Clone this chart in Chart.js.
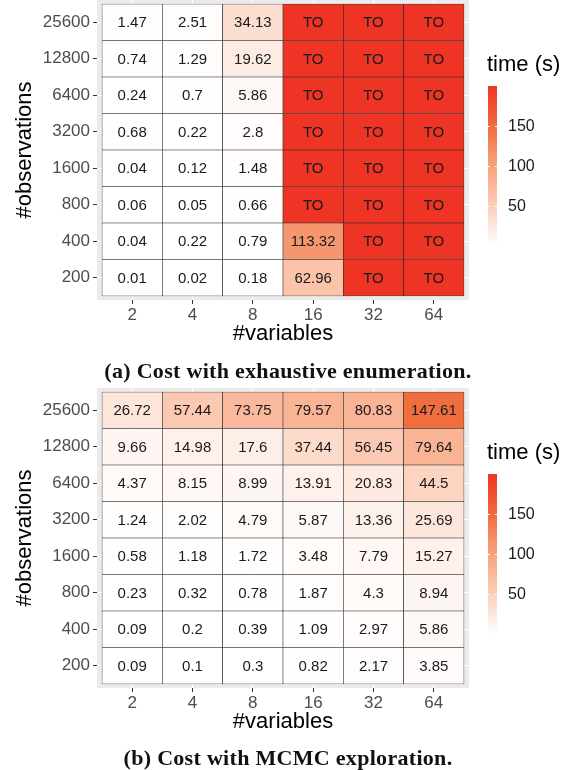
<!DOCTYPE html>
<html>
<head>
<meta charset="utf-8">
<script src="https://cdn.jsdelivr.net/npm/chart.js@4/dist/chart.umd.min.js"></script>
<style>
  html, body { margin: 0; padding: 0; background: #fff; }
  #wrap { position: relative; width: 572px; height: 770px; overflow: hidden; }
  canvas { position: absolute; left: 0; }
  .cap { position: absolute; left: 0; width: 576px; text-align: center; line-height: 24px;
         font: bold 22px "Liberation Serif", "Times New Roman", serif; letter-spacing: 0.3px; color: #111; }
</style>
</head>
<body>
<div id="wrap">
  <canvas id="chartA" width="572" height="388" style="top:0"></canvas>
  <canvas id="chartB" width="572" height="382" style="top:388px"></canvas>
  <div class="cap" style="top:358px">(a) Cost with exhaustive enumeration.</div>
  <div class="cap" style="top:745px">(b) Cost with MCMC exploration.</div>
</div>
<script>
// categories
const variables = [2, 4, 8, 16, 32, 64];
const observations = [200, 400, 800, 1600, 3200, 6400, 12800, 25600]; // bottom -> top

// time in seconds, rows follow observations (bottom -> top), null = timeout (TO)
const exhaustive = [
  [0.01, 0.02, 0.18, 62.96, null, null],
  [0.04, 0.22, 0.79, 113.32, null, null],
  [0.06, 0.05, 0.66, null, null, null],
  [0.04, 0.12, 1.48, null, null, null],
  [0.68, 0.22, 2.8, null, null, null],
  [0.24, 0.7, 5.86, null, null, null],
  [0.74, 1.29, 19.62, null, null, null],
  [1.47, 2.51, 34.13, null, null, null]
];
const mcmc = [
  [0.09, 0.1, 0.3, 0.82, 2.17, 3.85],
  [0.09, 0.2, 0.39, 1.09, 2.97, 5.86],
  [0.23, 0.32, 0.78, 1.87, 4.3, 8.94],
  [0.58, 1.18, 1.72, 3.48, 7.79, 15.27],
  [1.24, 2.02, 4.79, 5.87, 13.36, 25.69],
  [4.37, 8.15, 8.99, 13.91, 20.83, 44.5],
  [9.66, 14.98, 17.6, 37.44, 56.45, 79.64],
  [26.72, 57.44, 73.75, 79.57, 80.83, 147.61]
];
const legendTicks = [50, 100, 150];
const timeoutValue = 200;
const fillMax = 200;

// white -> red gradient
const colorStops = [
  [0, [255, 255, 255]],
  [0.17, [252, 222, 208]],
  [0.315, [251, 195, 170]],
  [0.567, [245, 150, 110]],
  [0.738, [240, 110, 62]],
  [1, [238, 52, 36]]
];
function fillColor(v) {
  const t = Math.min(Math.max(v / fillMax, 0), 1);
  for (let k = 1; k < colorStops.length; k++) {
    const [t0, c0] = colorStops[k - 1];
    const [t1, c1] = colorStops[k];
    if (t <= t1) {
      const f = (t - t0) / (t1 - t0);
      return 'rgb(' + c0.map((c, i) => Math.round(c + (c1[i] - c) * f)).join(',') + ')';
    }
  }
  return 'rgb(238,52,36)';
}

const FONT = '"Liberation Sans", Arial, sans-serif';
Chart.defaults.font.family = FONT;

function makeChart(id, rows, padBottom) {
  const cellText = {
    id: 'cellText',
    afterDatasetsDraw(chart) {
      const ctx = chart.ctx;
      ctx.save();
      ctx.font = '15px ' + FONT;
      ctx.fillStyle = '#1a1a1a';
      ctx.textAlign = 'center';
      ctx.textBaseline = 'middle';
      chart.data.datasets.forEach((ds, i) => {
        chart.getDatasetMeta(i).data.forEach((bar, j) => {
          const v = rows[i][j];
          ctx.fillText(v === null ? 'TO' : String(v), bar.x, (bar.y + bar.base) / 2 + 1);
        });
      });
      ctx.restore();
    }
  };

  const panel = {
    id: 'panel',
    beforeDraw(chart) {
      const a = chart.chartArea;
      chart.ctx.save();
      chart.ctx.fillStyle = '#EBEBEB';
      chart.ctx.fillRect(a.left, a.top, a.right - a.left, a.bottom - a.top);
      chart.ctx.restore();
    }
  };

  const colorbar = {
    id: 'colorbar',
    afterDraw(chart) {
      const ctx = chart.ctx;
      const x = 488, w = 9, top = 86, bottom = 246;
      const yOf = v => bottom - (v / fillMax) * (bottom - top);
      ctx.save();
      ctx.font = '22px ' + FONT;
      ctx.fillStyle = '#000';
      ctx.textAlign = 'left';
      ctx.textBaseline = 'middle';
      ctx.fillText('time (s)', 487, 65);
      const g = ctx.createLinearGradient(0, bottom, 0, top);
      for (let k = 0; k <= 40; k++) g.addColorStop(k / 40, fillColor(k / 40 * fillMax));
      ctx.fillStyle = g;
      ctx.fillRect(x, top, w, bottom - top);
      ctx.strokeStyle = '#fff';
      ctx.lineWidth = 1;
      ctx.font = '16px ' + FONT;
      ctx.fillStyle = '#1a1a1a';
      legendTicks.forEach(v => {
        const y = Math.round(yOf(v)) + 0.5;
        ctx.beginPath();
        ctx.moveTo(x, y); ctx.lineTo(x + 2, y);
        ctx.moveTo(x + w - 2, y); ctx.lineTo(x + w, y);
        ctx.stroke();
        ctx.fillText(String(v), 508, y);
      });
      ctx.restore();
    }
  };

  const datasets = rows.map((row, i) => ({
    label: String(observations[i]),
    data: row.map((v, j) => ({ x: j, y: 1 })),
    backgroundColor: row.map(v => fillColor(v === null ? timeoutValue : v)),
    borderColor: '#262626',
    borderWidth: 0.6,
    borderSkipped: false,
    grouped: false,
    barPercentage: 1,
    categoryPercentage: 1
  }));

  const gridOpts = { color: '#ffffff', lineWidth: 1, offset: false, tickColor: '#333333', tickLength: 4, tickWidth: 1 };

  new Chart(document.getElementById(id), {
    type: 'bar',
    data: { datasets },
    plugins: [panel, cellText, colorbar],
    options: {
      responsive: false,
      animation: false,
      events: [],
      layout: { padding: { left: 0, right: 103, top: 0, bottom: padBottom } },
      plugins: { legend: { display: false }, tooltip: { enabled: false } },
      scales: {
        x: {
          type: 'linear', min: -0.583, max: 5.583, offset: false,
          afterBuildTicks: s => { s.ticks = variables.map((_, j) => ({ value: j })); },
          afterFit: s => { s.height = 50; s.paddingLeft = 0; s.paddingRight = 0; },
          ticks: { callback: (v, idx) => variables[idx], autoSkip: false, maxRotation: 0,
                   padding: 1, color: '#4D4D4D', font: { size: 17 } },
          grid: gridOpts,
          border: { display: false },
          title: { display: true, text: '#variables', color: '#000', font: { size: 22 },
                   padding: { top: 0, bottom: 3 } }
        },
        y: {
          type: 'linear', stacked: true, min: -0.11, max: 8.11,
          afterBuildTicks: s => { s.ticks = observations.map((_, i) => ({ value: i + 0.5 })); },
          afterFit: s => { s.width = 97; s.paddingTop = 0; s.paddingBottom = 0; },
          ticks: { callback: (v, idx) => observations[idx], autoSkip: false,
                   padding: 3, color: '#4D4D4D', font: { size: 17 } },
          grid: gridOpts,
          border: { display: false },
          title: { display: true, text: '#observations', color: '#000', font: { size: 22 },
                   padding: { top: 12, bottom: 0 } }
        }
      }
    }
  });
}

makeChart('chartA', exhaustive, 38);
makeChart('chartB', mcmc, 32);
</script>
</body>
</html>
